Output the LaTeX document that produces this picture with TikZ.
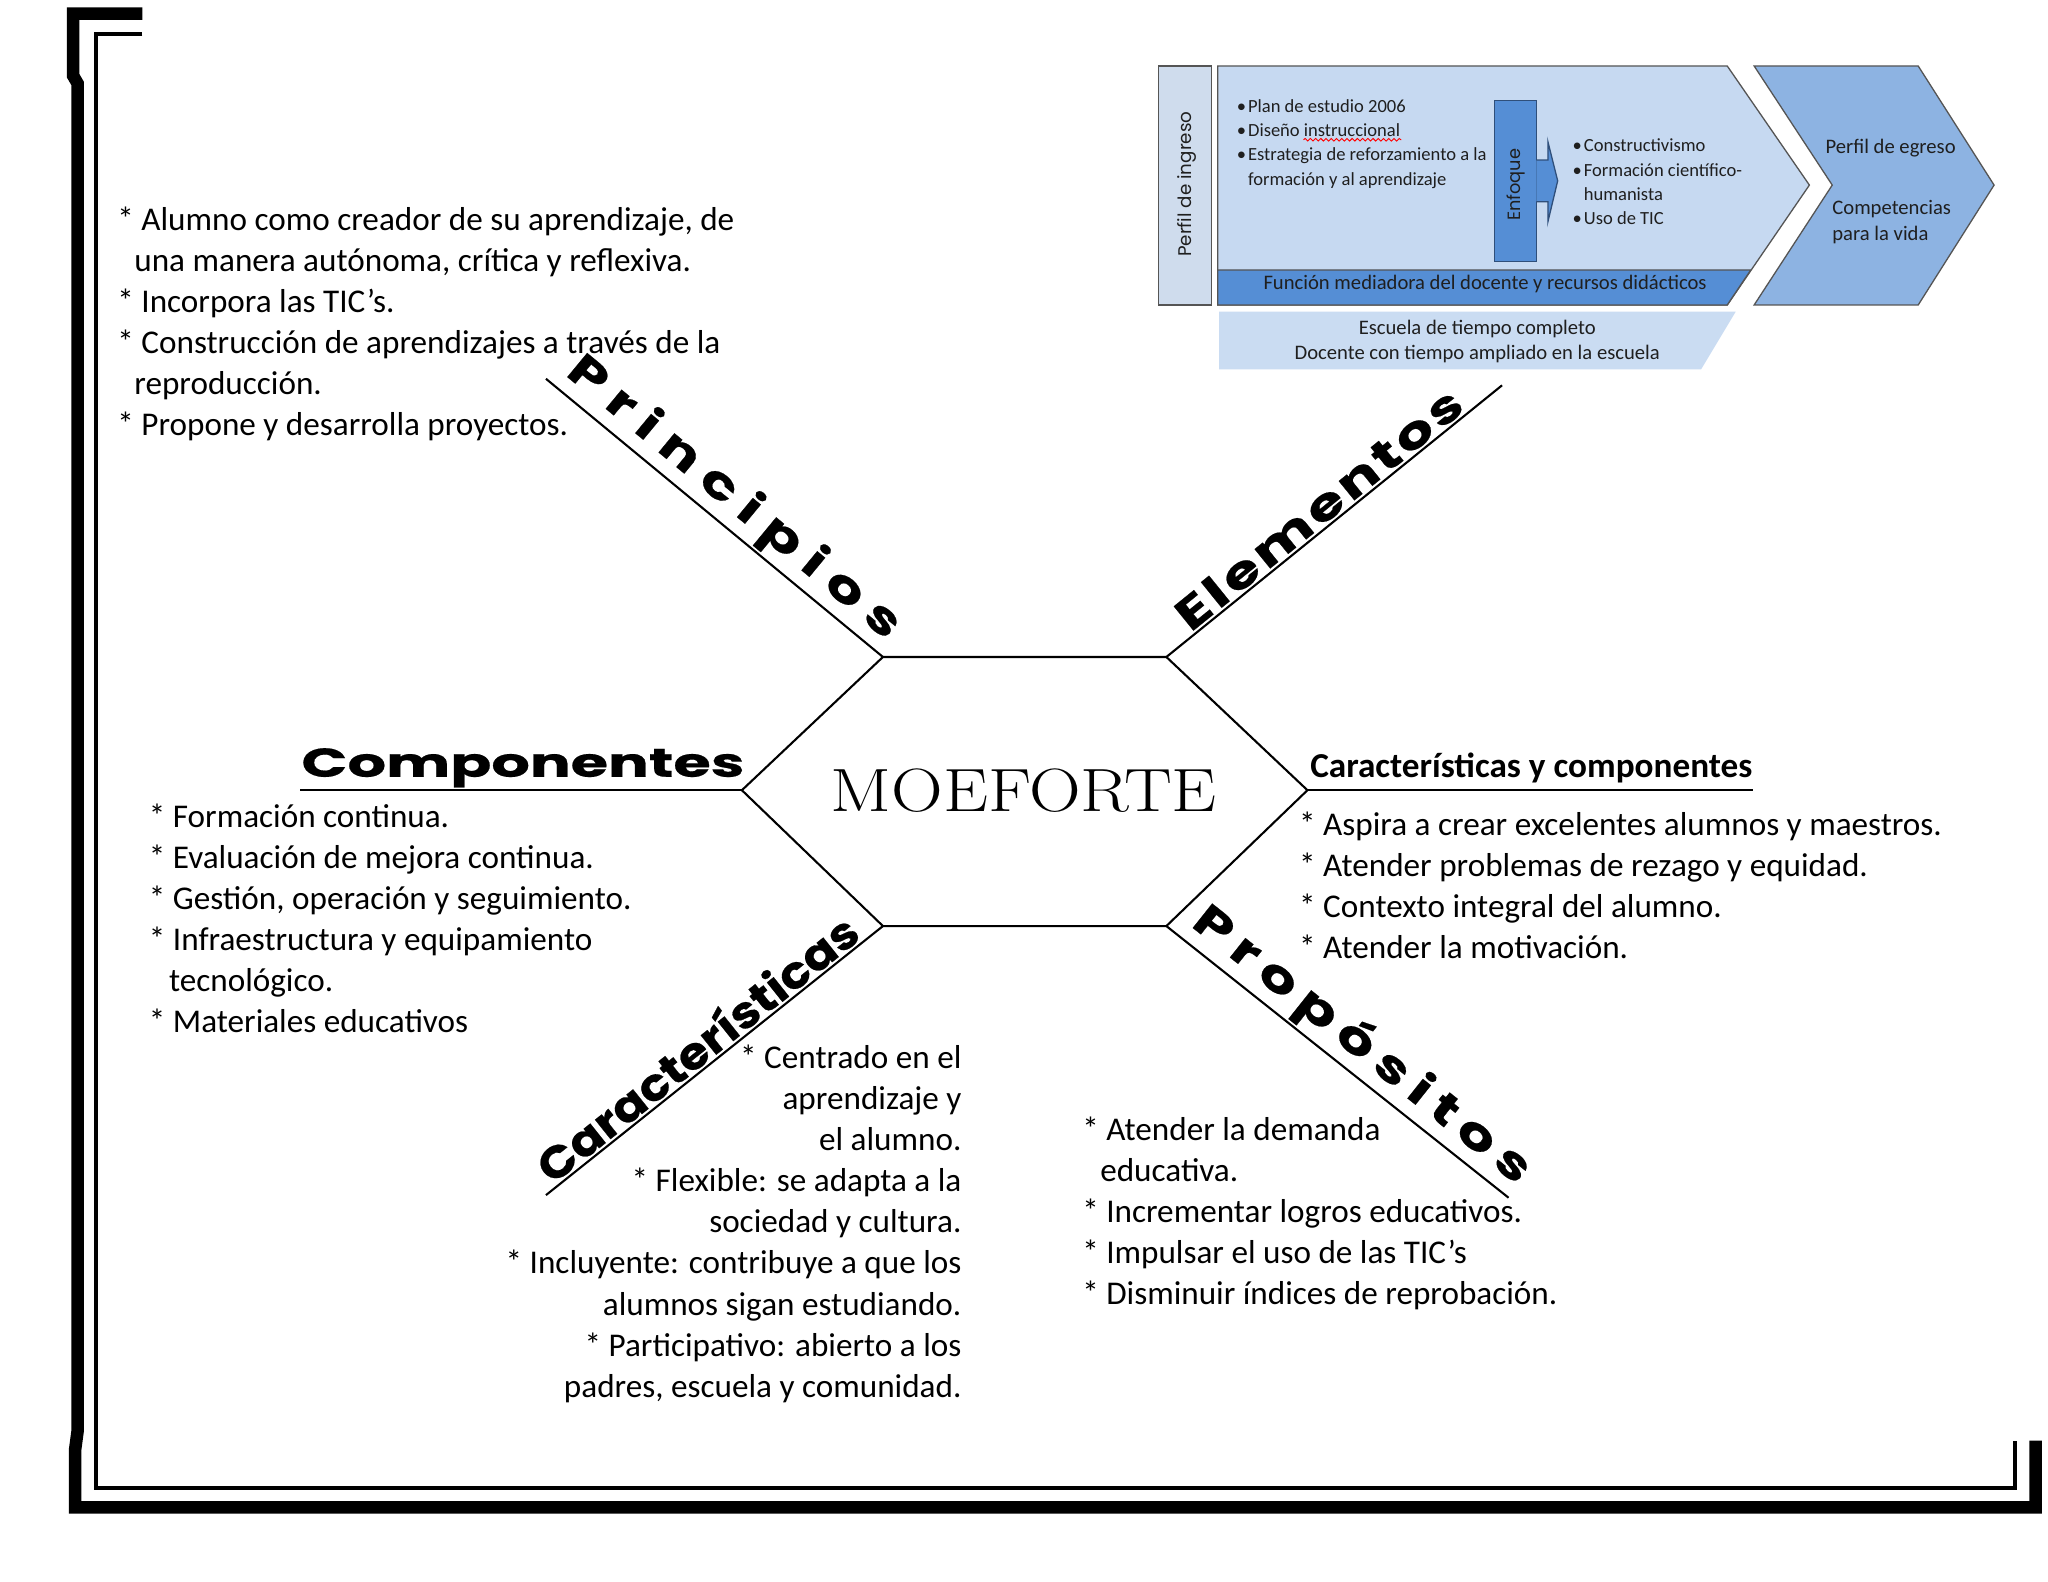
\documentclass[tikz,border=0pt]{standalone}
\usepackage{fontspec}
\usepackage{graphicx}
\setmainfont{Carlito}
\newfontfamily\headfont{Poppins}[BoldFeatures={FakeBold=0.4}]
\newfontfamily\pfont{Poppins}
\usetikzlibrary{decorations.pathmorphing}
\definecolor{cLight}{HTML}{C6D9F1}
\definecolor{cIngreso}{HTML}{CFDCED}
\definecolor{cMid}{HTML}{558ED5}
\definecolor{cEgreso}{HTML}{8DB3E2}
\definecolor{cEscuela}{HTML}{CADCF2}
\definecolor{cEdge}{HTML}{555555}
\definecolor{cEdgeB}{HTML}{2F4F7A}
\makeatletter
\newcommand\lspread[2]{\@tfor\lsp@tok:=#2\do{\lsp@tok\kern#1}\unkern}
\makeatother
\begin{document}
\begin{tikzpicture}[x=0.5pt,y=-0.5pt,
  ln/.style={line width=0.8pt},
  lst/.style={inner sep=0pt, font=\fontsize{12.7}{15.7}\selectfont},
  lstL/.style={lst, align=left, anchor=north west},
  lstR/.style={lst, align=right, anchor=north east},
  hd/.style={sloped, anchor=south, inner sep=0.8pt, font=\headfont\bfseries\fontsize{17}{20}\selectfont},
  sa/.style={inner sep=0pt, text=black!88},
  box/.style={draw=cEdge, line width=0.5pt}]
\fill[white] (0,0) rectangle (1568,1211);
\useasboundingbox (0,0) rectangle (1568,1211);
% frame
\draw[line width=4.8pt, line join=miter] (109,10.5) -- (56,10.5) -- (56,58) -- (59.5,64) -- (59.5,1095) -- (57.5,1110) -- (57.5,1154) -- (1558.5,1154) -- (1558.5,1103);
\draw[line width=1.6pt, line join=miter] (109,25.8) -- (73.5,25.8) -- (73.5,1139.5) -- (1542.5,1139.5) -- (1542.5,1103);

% hexagon
\coordinate (hTL) at (676,503);
\coordinate (hTR) at (893,503);
\coordinate (hR) at (1001,605);
\coordinate (hBR) at (893,709);
\coordinate (hBL) at (676,709);
\coordinate (hL) at (568,605);
\draw[ln, line join=miter] (hTL) -- (hTR) -- (hR) -- (hBR) -- (hBL) -- (hL) -- cycle;
\node[anchor=base, inner sep=0pt] (moe) at (783.8,621.5) {\resizebox{147.8pt}{\height}{\fontsize{23.4}{28}\fontfamily{lmr}\selectfont MOEFORTE}};

% branch lines and headings
\coordinate (pEnd) at (418,290);
\coordinate (eEnd) at (1150,295);
\coordinate (cEnd) at (418,915);
\coordinate (prEnd) at (1155,917);
\coordinate (compEnd) at (230,605);
\coordinate (cycEnd) at (1342,605);
\draw[ln] (pEnd) -- node[hd, pos=0.505] (princ) {\resizebox{160pt}{\height}{\lspread{3.6pt}{Principios}}} (hTL);
\draw[ln] (hTR) -- node[hd, pos=0.49] (elem) {\resizebox{136pt}{\height}{\lspread{1.1pt}{Elementos}}} (eEnd);
\draw[ln] (cEnd) -- node[hd, pos=0.486] (carac) {\resizebox{152pt}{\height}{Características}} (hBL);
\draw[ln] (hBR) -- node[hd, pos=0.52] (prop) {\resizebox{160pt}{\height}{\lspread{2.9pt}{Propósitos}}} (prEnd);
\draw[ln] (compEnd) -- (hL);
\draw[ln] (hR) -- (cycEnd);
\node[anchor=base, inner sep=0pt, font=\headfont\bfseries\fontsize{15.4}{18}\selectfont] (comp) at (400.4,594.7) {\resizebox{169.6pt}{\height}{Componentes}};
\node[anchor=base west, inner sep=0pt, font=\bfseries\fontsize{13.4}{16}\selectfont] (cyc) at (1002.8,595.2) {\resizebox{169.2pt}{\height}{Características y componentes}};

% lists
\node[lstL] (princList) at (89.5,154) {\strut* Alumno como creador de su aprendizaje, de\\
\hspace*{6.5pt}una manera autónoma, crítica y reflexiva.\\
* Incorpora las TIC’s.\\
* Construcción de aprendizajes a través de la\\
\hspace*{6.5pt}reproducción.\\
* Propone y desarrolla proyectos.};
\node[lstL] (compList) at (113.6,611) {\strut* Formación continua.\\
* Evaluación de mejora continua.\\
* Gestión, operación y seguimiento.\\
* Infraestructura y equipamiento\\
\hspace*{7.7pt}tecnológico.\\
* Materiales educativos};
\node[lstL] (cycList) at (994.3,617.4) {\strut* Aspira a crear excelentes alumnos y maestros.\\
* Atender problemas de rezago y equidad.\\
* Contexto integral del alumno.\\
* Atender la motivación.};
\node[lstR] (caracList) at (736.5,796) {\strut* Centrado en el\\
aprendizaje y\\
el alumno.\\
* Flexible: se adapta a la\\
sociedad y cultura.\\
* Incluyente: contribuye a que los\\
alumnos sigan estudiando.\\
* Participativo: abierto a los\\
padres, escuela y comunidad.};
\node[lstL] (propList) at (828.2,851) {\strut* Atender la demanda\\
\hspace*{6.9pt}educativa.\\
* Incrementar logros educativos.\\
* Impulsar el uso de las TIC’s\\
* Disminuir índices de reprobación.};

% embedded scheme (top right)
\draw[box, fill=cIngreso] (887,50.5) rectangle (927.6,233.5);
\node[sa, rotate=90, font=\pfont\fontsize{7}{8}\selectfont] (ingT) at (908.5,141) {Perfil de ingreso};
\draw[box, fill=cLight, line join=miter] (932.4,50.5) -- (1322.4,50.5) -- (1385.3,141.7) -- (1322.4,233.5) -- (932.4,233.5) -- cycle;
\draw[box, fill=cMid, line join=miter] (932.4,206.7) -- (1340.4,206.7) -- (1322.4,233.5) -- (932.4,233.5) -- cycle;
\node[sa, anchor=base, font=\fontsize{7.9}{9}\selectfont] (funT) at (1137,221.5) {Función mediadora del docente y recursos didácticos};
\draw[draw=cEdgeB, line width=0.5pt, fill=cMid] (1144.2,77) rectangle (1176.3,200.4);
\node[sa, rotate=90, font=\pfont\fontsize{6.8}{8}\selectfont] (enfT) at (1161,141.6) {Enfoque};
\draw[draw=cEdgeB, line width=0.5pt, fill=cMid, line join=miter] (1176.3,122.5) -- (1185.1,122.5) -- (1185.1,108.5) -- (1192.6,138.4) -- (1185.1,169.8) -- (1185.1,154.4) -- (1176.3,154.4);
\node[sa, align=left, anchor=north west, font=\fontsize{7.1}{9.3}\selectfont] (lstA) at (946.5,72.6) {\strut•\kern0.8pt Plan de estudio 2006\\•\kern0.8pt Diseño instruccional\\•\kern0.8pt Estrategia de reforzamiento a la\\\hspace*{4.3pt}formación y al aprendizaje};
\draw[red, line width=0.35pt, decorate, decoration={snake, amplitude=0.5pt, segment length=2pt}] (998,107) -- (1073,107);
\node[sa, align=left, anchor=north west, font=\fontsize{7.1}{9.3}\selectfont] (lstB) at (1203.6,102.9) {\strut•\kern0.8pt Constructivismo\\•\kern0.8pt Formación científico-\\\hspace*{4.3pt}humanista\\•\kern0.8pt Uso de TIC};
\draw[box, fill=cEgreso, line join=miter] (1343,50.5) -- (1468.6,50.5) -- (1526.7,141.7) -- (1468.6,233.5) -- (1343,233.5) -- (1402.8,141.7) -- cycle;
\node[sa, anchor=base, font=\fontsize{7.9}{10}\selectfont] (egrT) at (1447.5,117.5) {Perfil de egreso};
\node[sa, align=left, anchor=north west, font=\fontsize{7.9}{10.25}\selectfont] (compT) at (1402.5,149.2) {\strut Competencias\\para la vida};
\fill[cEscuela] (933.3,238.6) -- (1328.9,238.6) -- (1302.4,282.8) -- (933.3,282.8) -- cycle;
\node[sa, align=center, anchor=north, font=\fontsize{7.9}{9.5}\selectfont] (escT) at (1131,242.7) {\strut Escuela de tiempo completo\\Docente con tiempo ampliado en la escuela};
\end{tikzpicture}
\end{document}
